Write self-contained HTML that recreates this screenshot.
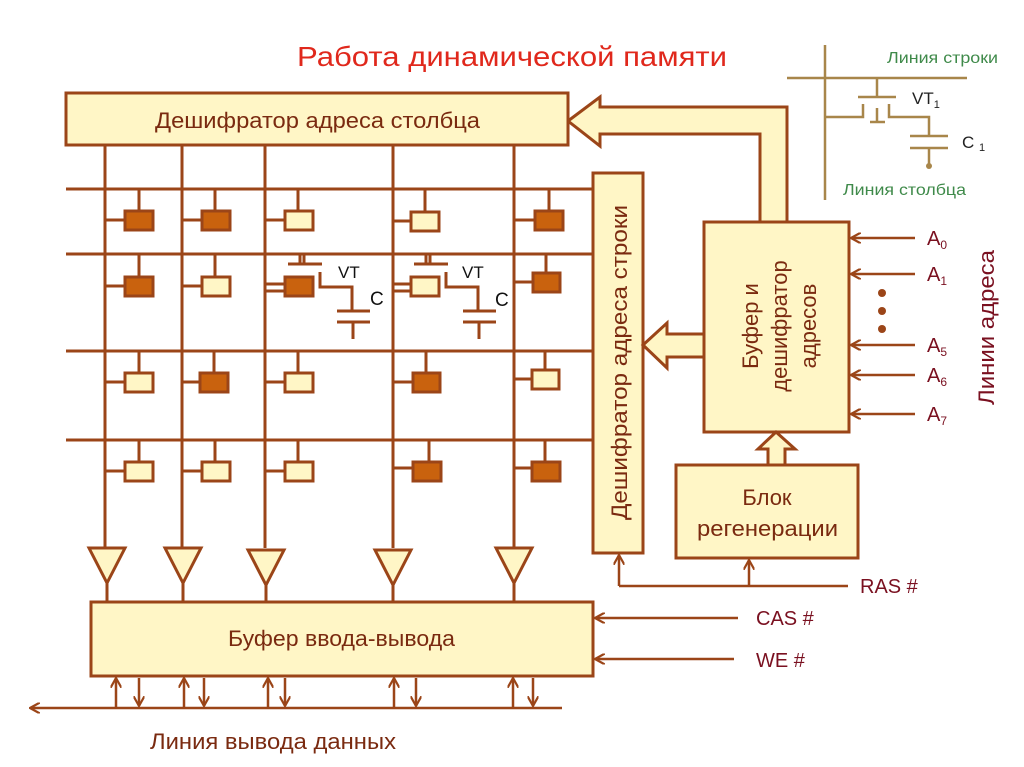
<!DOCTYPE html>
<html><head><meta charset="utf-8"><style>
html,body{margin:0;padding:0;background:#fff;}
svg{display:block;}
text{font-family:"Liberation Sans","DejaVu Sans",sans-serif;}
</style></head><body>
<svg width="1024" height="767" viewBox="0 0 1024 767" xmlns="http://www.w3.org/2000/svg">
<defs>
<marker id="ah" viewBox="0 0 10 10" refX="9" refY="5" markerWidth="11" markerHeight="11" markerUnits="userSpaceOnUse" orient="auto">
<path d="M0,0 L9,5 L0,10" fill="none" stroke="#9b4518" stroke-width="2"/>
</marker>
</defs>
<text x="297" y="66" font-size="28" fill="#e0281c" textLength="430" lengthAdjust="spacingAndGlyphs">Работа динамической памяти</text>

<!-- inset -->
<g stroke="#a8864a" stroke-width="2.5" fill="none">
<line x1="825" y1="45" x2="825" y2="200"/>
<line x1="787" y1="78" x2="967" y2="78"/>
<line x1="877" y1="78" x2="877" y2="97"/>
<line x1="858" y1="97" x2="896" y2="97"/>
<polyline points="825,117 863,117 863,104"/>
<polyline points="889,104 889,117 929,117 929,136"/>
<line x1="870" y1="122" x2="885" y2="122"/>
<line x1="877" y1="108" x2="877" y2="122"/>
<line x1="910" y1="136" x2="948" y2="136"/>
<line x1="910" y1="148" x2="948" y2="148"/>
<line x1="929" y1="148" x2="929" y2="165"/>
</g>
<circle cx="929" cy="166" r="3" fill="#a8864a"/>
<text x="887" y="63" font-size="16" fill="#3f8a4a" textLength="111" lengthAdjust="spacingAndGlyphs">Линия строки</text>
<text x="912" y="104" font-size="17" fill="#222">VT<tspan font-size="11" dy="4">1</tspan></text>
<text x="962" y="148" font-size="17" fill="#222">C <tspan font-size="11" dy="3">1</tspan></text>
<text x="843" y="195" font-size="16" fill="#3f8a4a" textLength="123" lengthAdjust="spacingAndGlyphs">Линия столбца</text>

<g stroke="#9b4518" stroke-width="3" fill="#fff6c6">
<path d="M568,121 L600,97 L600,107 L787,107 L787,222 L760,222 L760,134 L600,134 L600,146 Z"/>
<rect x="66" y="93" width="502" height="52"/>
<g fill="none">
<line x1="66" y1="189" x2="593" y2="189"/>
<line x1="66" y1="254" x2="593" y2="254"/>
<line x1="66" y1="351" x2="593" y2="351"/>
<line x1="66" y1="440" x2="593" y2="440"/>
<line x1="105" y1="145" x2="105" y2="548"/>
<line x1="182" y1="145" x2="182" y2="548"/>
<line x1="265" y1="145" x2="265" y2="548"/>
<line x1="393" y1="145" x2="393" y2="548"/>
<line x1="514" y1="145" x2="514" y2="548"/>
<line x1="107" y1="583" x2="107" y2="602"/>
<line x1="183" y1="583" x2="183" y2="602"/>
<line x1="266" y1="585" x2="266" y2="602"/>
<line x1="393" y1="585" x2="393" y2="602"/>
<line x1="514" y1="583" x2="514" y2="602"/>
</g>
<path d="M89,548 L125,548 L107,583 Z"/>
<path d="M165,548 L201,548 L183,583 Z"/>
<path d="M248,550 L284,550 L266,585 Z"/>
<path d="M375,550 L411,550 L393,585 Z"/>
<path d="M496,548 L532,548 L514,583 Z"/>
<rect x="593" y="173" width="50" height="380"/>
<rect x="704" y="222" width="145" height="210"/>
<path d="M643,345 L667,323 L667,334 L704,334 L704,357 L667,357 L667,368 Z"/>
<rect x="676" y="465" width="182" height="93"/>
<path d="M776,432 L795,449 L785,449 L785,465 L768,465 L768,449 L758,449 Z"/>
<rect x="91" y="602" width="502" height="74"/>
</g>

<g stroke="#9b4518" stroke-width="3">
<g fill="none">
<path d="M139,189V211 M105,220H125 M215,189V211 M182,220H202 M298,189V211 M265,220H285 M425,189V212 M393,221H411 M549,189V211 M514,220H535"/>
<path d="M139,254V277 M105,286H125 M215,254V277 M182,286H202 M265,284H285 M265,291H285 M393,284H411 M393,291H411 M546,254V273 M514,282H533"/>
<path d="M139,351V373 M105,382H125 M214,351V373 M182,382H200 M298,351V373 M265,382H285 M426,351V373 M393,382H413 M545,351V370 M514,379H532"/>
<path d="M139,440V462 M105,471H125 M215,440V462 M182,471H202 M298,440V462 M265,471H285 M429,440V462 M393,468H413 M545,440V462 M514,468H532"/>
<path d="M300,254V264 M304,254V264 M288,264H322 M320,272V287H352V311 M337,311H370 M337,322H370 M353,322V339"/>
<path d="M426,254V264 M430,254V264 M414,264H448 M446,272V287H478V311 M463,311H496 M463,322H496 M479,322V339"/>
</g>
<g fill="#c9620e">
<rect x="125" y="211" width="28" height="19"/><rect x="202" y="211" width="28" height="19"/><rect x="535" y="211" width="28" height="19"/>
<rect x="125" y="277" width="28" height="19"/><rect x="285" y="277" width="28" height="19"/><rect x="533" y="273" width="27" height="19"/>
<rect x="200" y="373" width="28" height="19"/><rect x="413" y="373" width="27" height="19"/>
<rect x="413" y="462" width="28" height="19"/><rect x="532" y="462" width="28" height="19"/>
</g>
<g fill="#fff6c6">
<rect x="285" y="211" width="28" height="19"/><rect x="411" y="212" width="28" height="19"/>
<rect x="202" y="277" width="28" height="19"/><rect x="411" y="277" width="28" height="19"/>
<rect x="125" y="373" width="28" height="19"/><rect x="285" y="373" width="28" height="19"/><rect x="532" y="370" width="27" height="19"/>
<rect x="125" y="462" width="28" height="19"/><rect x="202" y="462" width="28" height="19"/><rect x="285" y="462" width="28" height="19"/>
</g>
</g>
<text x="338" y="278" font-size="17" fill="#111">VT</text>
<text x="370" y="305" font-size="19" fill="#111">C</text>
<text x="462" y="278" font-size="17" fill="#111">VT</text>
<text x="495" y="306" font-size="19" fill="#111">C</text>

<g stroke="#9b4518" stroke-width="2.5" fill="none" marker-end="url(#ah)">
<line x1="915" y1="238" x2="851" y2="238"/>
<line x1="915" y1="274" x2="851" y2="274"/>
<line x1="915" y1="345" x2="851" y2="345"/>
<line x1="915" y1="375" x2="851" y2="375"/>
<line x1="915" y1="414" x2="851" y2="414"/>
<line x1="738" y1="618" x2="595" y2="618"/>
<line x1="734" y1="659" x2="595" y2="659"/>
<line x1="619" y1="586" x2="619" y2="555"/>
<line x1="749" y1="586" x2="749" y2="560"/>
<line x1="562" y1="708" x2="30" y2="708"/>
<line x1="116" y1="708" x2="116" y2="678"/><line x1="139" y1="678" x2="139" y2="706"/>
<line x1="184" y1="708" x2="184" y2="678"/><line x1="204" y1="678" x2="204" y2="706"/>
<line x1="268" y1="708" x2="268" y2="678"/><line x1="285" y1="678" x2="285" y2="706"/>
<line x1="394" y1="708" x2="394" y2="678"/><line x1="416" y1="678" x2="416" y2="706"/>
<line x1="513" y1="708" x2="513" y2="678"/><line x1="533" y1="678" x2="533" y2="706"/>
</g>
<line x1="619" y1="586" x2="848" y2="586" stroke="#9b4518" stroke-width="2.5"/>
<g fill="#9b4518"><circle cx="882" cy="293" r="4"/><circle cx="882" cy="311" r="4"/><circle cx="882" cy="329" r="4"/></g>

<g fill="#7a2a10" font-size="22">
<text x="155" y="128" textLength="325" lengthAdjust="spacingAndGlyphs">Дешифратор  адреса  столбца</text>
<text x="228" y="646" textLength="227" lengthAdjust="spacingAndGlyphs">Буфер ввода-вывода</text>
<text x="150" y="749" textLength="246" lengthAdjust="spacingAndGlyphs">Линия вывода данных</text>
<text x="767" y="505" text-anchor="middle">Блок</text>
<text x="697" y="536" textLength="141" lengthAdjust="spacingAndGlyphs">регенерации</text>
<text transform="translate(627,520) rotate(-90)" textLength="315" lengthAdjust="spacingAndGlyphs">Дешифратор  адреса  строки</text>
<text transform="translate(758,326) rotate(-90)" text-anchor="middle">Буфер и</text>
<text transform="translate(787,326) rotate(-90)" text-anchor="middle">дешифратор</text>
<text transform="translate(816,326) rotate(-90)" text-anchor="middle">адресов</text>
</g>
<g fill="#7a1020" font-size="20">
<text x="860" y="593">RAS #</text>
<text x="756" y="625">CAS #</text>
<text x="756" y="667">WE #</text>
<text transform="translate(994,405) rotate(-90)" font-size="22" textLength="155" lengthAdjust="spacingAndGlyphs">Линии адреса</text>
<text x="927" y="245">A<tspan font-size="12" dy="4">0</tspan></text>
<text x="927" y="281">A<tspan font-size="12" dy="4">1</tspan></text>
<text x="927" y="352">A<tspan font-size="12" dy="4">5</tspan></text>
<text x="927" y="382">A<tspan font-size="12" dy="4">6</tspan></text>
<text x="927" y="421">A<tspan font-size="12" dy="4">7</tspan></text>
</g>
</svg>
</body></html>
